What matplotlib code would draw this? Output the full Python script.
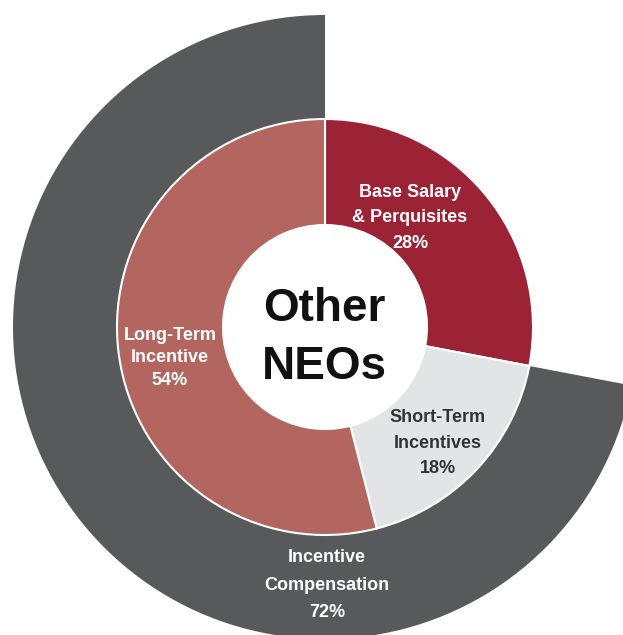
import matplotlib.pyplot as plt

# data
inner_labels = ["Base Salary\n& Perquisites", "Short-Term\nIncentives", "Long-Term\nIncentive"]
inner_values = [28, 18, 54]
inner_colors = ["#9C2236", "#E3E4E6", "#B3655F"]
inner_text_colors = ["white", "#333333", "white"]

outer_label = "Incentive\nCompensation"
outer_values = [28, 72]
outer_colors = ["none", "#58595B"]

center_text = "Other\nNEOs"

plt.rcParams["font.family"] = ["Liberation Sans", "DejaVu Sans"]

fig = plt.figure(figsize=(6.23, 6.35), dpi=100)
ax = fig.add_axes([0, 0, 1, 1])
ax.axis("off")

# center of the rings in pixel coords (y up)
cx, cy = 325, 308
r_outer, r_mid, r_hole = 312, 208, 102

# outer ring (incentive compensation)
ax.pie(outer_values, colors=outer_colors, radius=r_outer, center=(cx, cy),
       startangle=90, counterclock=False,
       wedgeprops=dict(width=r_outer - r_mid, edgecolor="none"))

# inner donut
ax.pie(inner_values, colors=inner_colors, radius=r_mid, center=(cx, cy),
       startangle=90, counterclock=False,
       wedgeprops=dict(width=r_mid - r_hole, edgecolor="white", linewidth=1.5))

ax.set_xlim(0, 623)
ax.set_ylim(0, 635)
ax.set_aspect("auto")

# labels (positions in pixel coords, y up)
label_pos = [(410, 635 - 218), (438, 635 - 443), (170, 635 - 358)]
spacing = [1.68, 1.68, 1.45]
for lab, val, col, (x, y), ls in zip(inner_labels, inner_values, inner_text_colors, label_pos, spacing):
    ax.text(x, y, f"{lab}\n{val}%", ha="center", va="center", color=col,
            fontsize=13, fontweight="bold", linespacing=ls)

ax.text(327, 635 - 585, f"{outer_label}\n{outer_values[1]}%", ha="center", va="center",
        color="white", fontsize=13, fontweight="bold", linespacing=1.8)

ax.text(324, 635 - 338, center_text, ha="center", va="center", color="#111111",
        fontsize=33, fontweight="bold", linespacing=1.43)

fig.savefig("out.png", dpi=100)
